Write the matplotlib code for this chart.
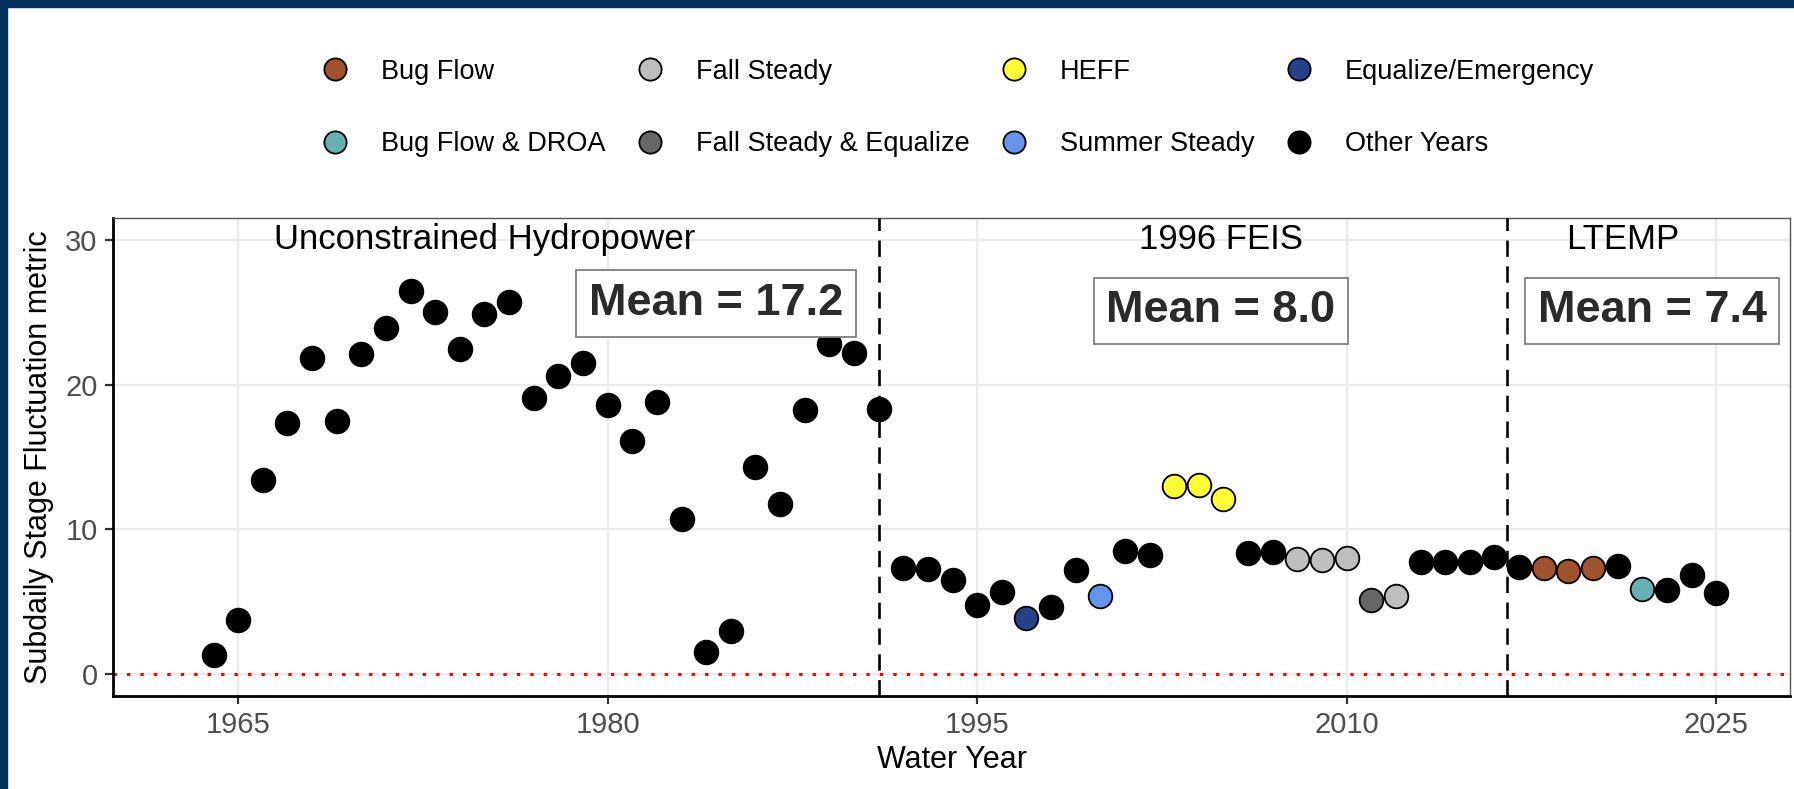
import matplotlib
matplotlib.use("Agg")
from matplotlib import pyplot as plt
from matplotlib.lines import Line2D

plt.rcParams['font.family'] = ['Liberation Sans', 'DejaVu Sans']

# water years and subdaily stage fluctuation metric
years = list(range(1964, 2026))
values = [1.35, 3.76, 13.4, 17.35, 21.83, 17.5, 22.14, 23.88, 26.47, 25.0,
          22.45, 24.89, 25.67, 19.08, 20.61, 21.52, 18.59, 16.1, 18.77, 10.73,
          1.53, 2.98, 14.31, 11.77, 18.23, 22.79, 22.19, 18.33,
          7.36, 7.26, 6.53, 4.77, 5.68, 3.89, 4.64, 7.18, 5.42, 8.48,
          8.22, 13.0, 13.09, 12.1, 8.35, 8.45, 7.96, 7.91, 8.04, 5.1,
          5.37, 7.78, 7.75, 7.78, 8.09,
          7.39, 7.36, 7.13, 7.36, 7.44, 5.89, 5.83, 6.87, 5.63]

special = {1997: 'Equalize/Emergency', 2000: 'Summer Steady',
           2003: 'HEFF', 2004: 'HEFF', 2005: 'HEFF',
           2008: 'Fall Steady', 2009: 'Fall Steady', 2010: 'Fall Steady',
           2011: 'Fall Steady & Equalize', 2012: 'Fall Steady',
           2018: 'Bug Flow', 2019: 'Bug Flow', 2020: 'Bug Flow',
           2022: 'Bug Flow & DROA'}
categories = [special.get(y, 'Other Years') for y in years]

# legend order (column-major, 4 columns x 2 rows)
legend_order = ['Bug Flow', 'Bug Flow & DROA', 'Fall Steady', 'Fall Steady & Equalize',
                'HEFF', 'Summer Steady', 'Equalize/Emergency', 'Other Years']
colors = {'Bug Flow': '#A0522D', 'Bug Flow & DROA': '#66B2B2',
          'Fall Steady': '#BEBEBE', 'Fall Steady & Equalize': '#666666',
          'HEFF': '#FFFF33', 'Summer Steady': '#6495ED',
          'Equalize/Emergency': '#27408B', 'Other Years': 'black'}

breaks = [1991, 2016.5]
periods = ['Unconstrained Hydropower', '1996 FEIS', 'LTEMP']
period_x = [1975.0, 2004.9, 2021.2]
means = ['Mean = 17.2', 'Mean = 8.0', 'Mean = 7.4']
mean_x = [1984.4, 2004.9, 2022.4]
mean_y = [25.6, 25.1, 25.1]

fig = plt.figure(figsize=(17.94, 7.89), dpi=100)
fig.patch.set_facecolor('white')
ax = fig.add_axes([0.063, 0.118, 0.9348, 0.6057])

ax.set_xlim(1959.92, 2028.0)
ax.set_ylim(-1.5, 31.5)
ax.set_xticks([1965, 1980, 1995, 2010, 2025])
ax.set_yticks([0, 10, 20, 30])
ax.grid(True, color='#EBEBEB', lw=1.6, zorder=0)
ax.set_axisbelow(True)

ax.axhline(0, color='red', lw=2.2, linestyle=(0, (1.1, 3.3)), zorder=1)

for cat in legend_order:
    xs = [y for y, c in zip(years, categories) if c == cat]
    ys = [v for v, c in zip(values, categories) if c == cat]
    ax.scatter(xs, ys, s=290, color=colors[cat], edgecolors='black',
               linewidths=1.3, zorder=3)

for b in breaks:
    ax.axvline(b, color='black', lw=1.9, linestyle=(0, (6.2, 3.6)), zorder=4)

for label, x in zip(periods, period_x):
    ax.text(x, 30, label, ha='center', va='center', fontsize=25, color='black', zorder=5)

for label, x, y in zip(means, mean_x, mean_y):
    ax.text(x, y, label, ha='center', va='center', fontsize=32.5, fontweight='bold',
            color='#2a2a2a', zorder=5,
            bbox=dict(boxstyle='square,pad=0.28', facecolor='white',
                      edgecolor='#808080', lw=1.3))

for side in ['left', 'bottom']:
    ax.spines[side].set_color('black')
    ax.spines[side].set_linewidth(2.0)
for side in ['top', 'right']:
    ax.spines[side].set_color('#555555')
    ax.spines[side].set_linewidth(1.0)
ax.tick_params(axis='both', length=6, width=1.6, color='#333333',
               labelsize=21, labelcolor='#4D4D4D', pad=5)

ax.set_xlabel('Water Year', fontsize=22, labelpad=4)
ax.set_ylabel('Subdaily Stage Fluctuation metric', fontsize=22, labelpad=8)

handles = [Line2D([], [], marker='o', linestyle='', markersize=16,
                  markerfacecolor=colors[c], markeredgecolor='black',
                  markeredgewidth=1.3) for c in legend_order]
fig.legend(handles, legend_order, ncol=4, loc='center',
           bbox_to_anchor=(0.534, 0.863), frameon=False, fontsize=19.5,
           handlelength=1.0, handletextpad=1.2, columnspacing=1.13,
           labelspacing=1.72)

# dark blue frame on the top and left edges
fig.patches.append(plt.Rectangle((0, 0), 7 / 1794, 1, transform=fig.transFigure,
                                 color='#04325E', zorder=10))
fig.patches.append(plt.Rectangle((0, 1 - 7 / 789), 1, 7 / 789, transform=fig.transFigure,
                                 color='#04325E', zorder=10))

fig.savefig('out.png', dpi=100, facecolor='white')
